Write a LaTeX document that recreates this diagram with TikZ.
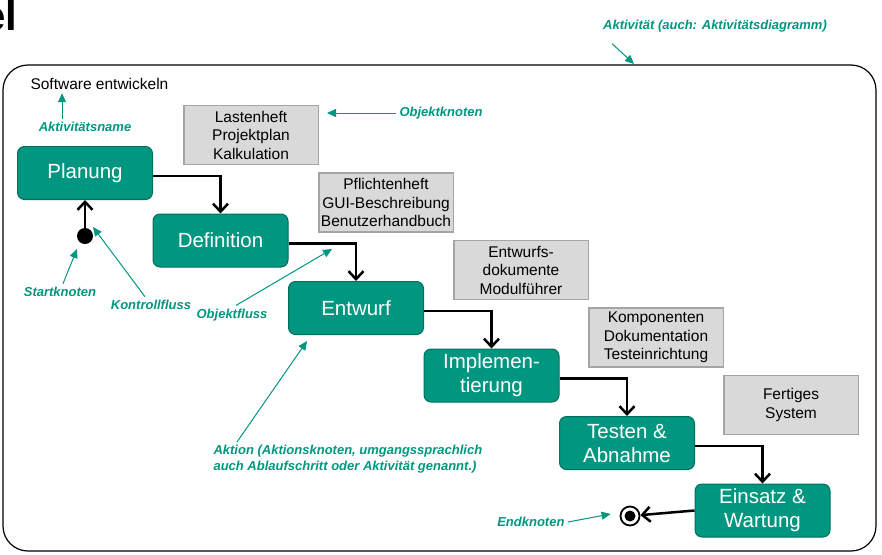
\documentclass[tikz,border=0pt]{standalone}
\usepackage{fontspec}
\setmainfont{Liberation Sans}
\usetikzlibrary{arrows.meta, positioning}
\definecolor{gruen}{RGB}{0,150,128}
\definecolor{gruendunkel}{RGB}{0,112,94}
\definecolor{grau}{RGB}{217,217,217}
\definecolor{graurand}{RGB}{165,165,165}
\tikzstyle{aktion} = [draw=gruendunkel, fill=gruen, line width=1pt, rectangle, rounded corners=7pt, minimum width=135pt, minimum height=53pt, inner sep=2pt, text=white, align=center, font=\fontsize{20.5}{24}\selectfont]
\tikzstyle{objekt} = [draw=graurand, fill=grau, line width=1.5pt, rectangle, minimum width=134.5pt, minimum height=59pt, inner sep=2pt, align=center, font=\fontsize{15.5}{18.5}\selectfont]
\tikzstyle{notiz} = [text=gruen, font=\fontsize{13}{16}\selectfont\bfseries\itshape]
\tikzstyle{fluss} = [line width=2.5pt, -{Straight Barb[length=8pt,width=15pt]}]
\tikzstyle{hinweis} = [draw=gruen, line width=1pt, -{Triangle[length=9pt,width=8pt]}]

\begin{document}
\begin{tikzpicture}[x=1pt, y=-1pt]
	\useasboundingbox (0,0) rectangle (882,554);
	\node[anchor=base east, inner sep=0pt, font=\fontsize{42}{42}\selectfont\bfseries] (titel) at (17.5,30) {el};
	\draw[line width=1.2pt, rounded corners=25pt] (3,65) rectangle (876,551);
	\node[anchor=west, font=\fontsize{15.5}{18}\selectfont] (name) at (27,84) {Software entwickeln};
	% Aktionen
	\node[aktion] (planung) at (85,173) {Planung};
	\node[aktion, below right=13.5pt and -0.5pt of planung] (definition) {Definition};
	\node[aktion, below right=13.5pt and -0.5pt of definition] (entwurf) {Entwurf};
	\node[aktion, below right=13.5pt and -0.5pt of entwurf] (implementierung) {Implemen-\\tierung};
	\node[aktion, below right=13.5pt and -0.5pt of implementierung] (testen) {Testen \&\\Abnahme};
	\node[aktion, below right=13.5pt and -0.5pt of testen] (einsatz) {Einsatz \&\\Wartung};
	% Objekte
	\node[objekt] (lasten) at (251,135) {Lastenheft\\Projektplan\\Kalkulation};
	\node[objekt, below right=7pt and -1pt of lasten] (pflichten) {Pflichtenheft\\GUI-Beschreibung\\Benutzerhandbuch};
	\node[objekt, below right=7pt and -1pt of pflichten] (entwurfsdok) {Entwurfs-\\dokumente\\Modulführer};
	\node[objekt, below right=7pt and -1pt of entwurfsdok] (komponenten) {Komponenten\\Dokumentation\\Testeinrichtung};
	\node[objekt, below right=7pt and -1pt of komponenten] (fertig) {Fertiges\\System};
	% Start und Ende
	\node[circle, fill=black, minimum size=16pt, inner sep=0pt] (start) at (85,236) {};
	\node[circle, draw=black, line width=1.8pt, fill=white, minimum size=19pt, inner sep=0pt] (ende) at (630,516) {};
	\node[circle, fill=black, minimum size=11pt, inner sep=0pt] (endepunkt) at (ende) {};
	\draw[fluss] (start) -- (planung);
	\draw[fluss] ([yshift=-3pt]planung.east) -| (definition.north);
	\draw[fluss] ([yshift=-3pt]definition.east) -| (entwurf.north);
	\draw[fluss] ([yshift=-3pt]entwurf.east) -| (implementierung.north);
	\draw[fluss] ([yshift=-3pt]implementierung.east) -| (testen.north);
	\draw[fluss] ([yshift=-3pt]testen.east) -| (einsatz.north);
	\draw[fluss] (einsatz.west) -- (ende);
	% Erklaerungen
	\node[notiz] (aktname) at (85,127) {Aktivitätsname};
	\node[notiz] (aktivitaet) at (715,26) {Aktivität (auch: Aktivitätsdiagramm)};
	\node[notiz, anchor=west] (objknoten) at (396,113) {Objektknoten};
	\node[notiz] (startkn) at (60,292) {Startknoten};
	\node[notiz] (kontroll) at (151,305) {Kontrollfluss};
	\node[notiz] (objfluss) at (232,315) {Objektfluss};
	\node[notiz, anchor=north west, align=left] (aktiontext) at (210,442) {Aktion (Aktionsknoten, umgangssprachlich\\auch Ablaufschritt oder Aktivität genannt.)};
	\node[notiz, anchor=east] (endkn) at (568,522) {Endknoten};
	\coordinate (rahmenpunkt) at (634,64);
	\coordinate (objpunkt) at (332,249);
	\draw[hinweis] ([xshift=-23pt]aktname.north) -- ([xshift=35pt]name.south west);
	\draw[hinweis] ([xshift=-103pt,yshift=-8pt]aktivitaet.south) -- (rahmenpunkt);
	\draw[hinweis] (objknoten.west) -- ([xshift=8pt]lasten.east |- objknoten.west);
	\draw[hinweis] ([xshift=3pt]startkn.north) -- ([shift={(-8pt,-13pt)}]start.center);
	\draw[hinweis] ([xshift=-6pt]kontroll.north) -- ([shift={(8pt,9pt)}]start.center);
	\draw[hinweis] ([xshift=4pt]objfluss.north) -- (objpunkt);
	\draw[hinweis] ([xshift=27pt]aktiontext.north west) -- ([shift={(19pt,-6pt)}]entwurf.south west);
	\draw[hinweis] (endkn.east) -- ([xshift=-9pt,yshift=2pt]ende.west);
\end{tikzpicture}
\end{document}
